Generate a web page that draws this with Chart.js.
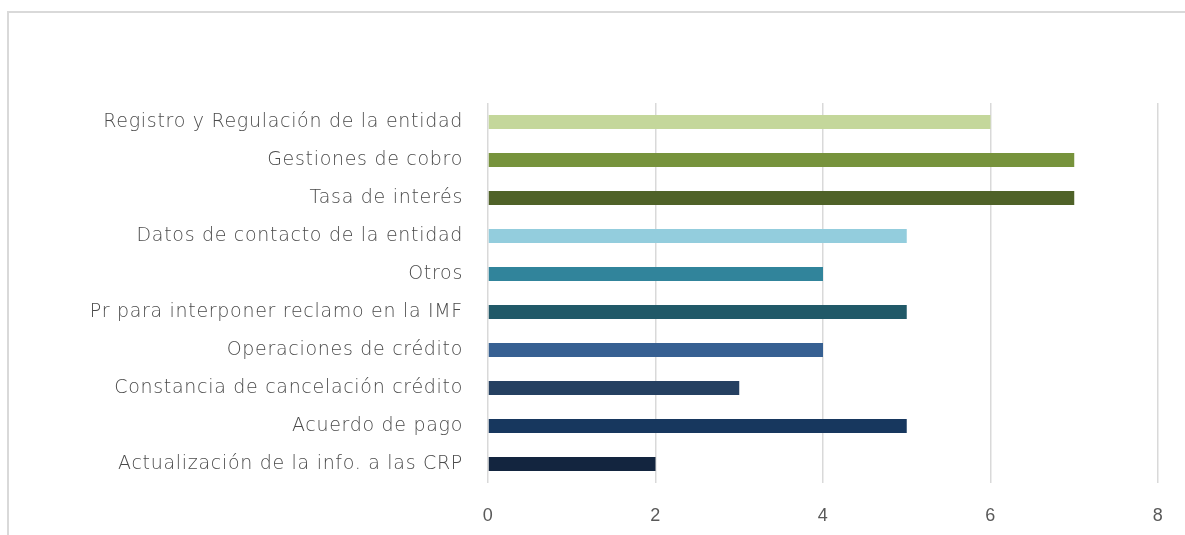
<!DOCTYPE html>
<html>
<head>
<meta charset="utf-8">
<script src="https://cdn.jsdelivr.net/npm/chart.js@4"></script>
<style>
  html, body { margin: 0; background: #fff; overflow: hidden; }
  #wrap { position: absolute; left: 0; top: 0; width: 1185px; height: 535px; }
</style>
</head>
<body>
<div id="wrap"><canvas id="myChart"></canvas></div>
<script>
'use strict';
const categories = [
  'Registro y Regulación de la entidad',
  'Gestiones de cobro',
  'Tasa de interés',
  'Datos de contacto de la entidad',
  'Otros',
  'Pr para interponer reclamo en la IMF',
  'Operaciones de crédito',
  'Constancia de cancelación crédito',
  'Acuerdo de pago',
  'Actualización de la info. a las CRP'
];
const values = [6, 7, 7, 5, 4, 5, 4, 3, 5, 2];
const barColors = [
  '#c4d79b', '#77933c', '#4f6228', '#93cddd', '#31849b',
  '#215968', '#376092', '#254061', '#17375e', '#13253f'
];
const xTicks = [0, 2, 4, 6, 8];

// a bit of tracking so labels run as wide as the original's round font
const spacing = {
  id: 'spacing',
  beforeDraw(chart) { chart.ctx.letterSpacing = '0.7px'; }
};

// outer frame of the chart box (top and left edges only are in view)
const frame = {
  id: 'frame',
  afterDraw(chart) {
    const c = chart.ctx;
    c.save();
    c.strokeStyle = '#d9d9d9';
    c.lineWidth = 2;
    c.beginPath();
    c.moveTo(8, chart.height);
    c.lineTo(8, 12);
    c.lineTo(chart.width + 5, 12);
    c.stroke();
    c.restore();
  }
};

const ctx = document.getElementById('myChart').getContext('2d');
new Chart(ctx, {
  type: 'bar',
  data: {
    labels: categories,
    datasets: [{
      data: values,
      backgroundColor: barColors,
      barPercentage: 0.37,
      categoryPercentage: 1
    }]
  },
  plugins: [spacing, frame],
  options: {
    indexAxis: 'y',
    responsive: true,
    maintainAspectRatio: false,
    animation: false,
    layout: { padding: { top: 103, right: 27, bottom: 0, left: 0 } },
    plugins: { legend: { display: false }, tooltip: { enabled: false } },
    scales: {
      x: {
        min: 0,
        max: 8,
        afterBuildTicks: (scale) => { scale.ticks = xTicks.map(v => ({ value: v })); },
        afterFit: (scale) => { scale.height = 52; },
        grid: { color: '#d9d9d9', lineWidth: 1.5, drawTicks: false },
        border: { display: false },
        ticks: {
          padding: 22,
          color: '#595959',
          font: { family: "'Liberation Sans Narrow', 'Liberation Sans', sans-serif", size: 18 }
        }
      },
      y: {
        afterFit: (scale) => { scale.width = 488; },
        grid: { display: false },
        border: { display: false },
        ticks: {
          padding: 17,
          color: '#4a4a4a',
          font: { family: "'DejaVu Sans', sans-serif", size: 19, weight: 300 }
        }
      }
    }
  }
});
</script>
</body>
</html>
